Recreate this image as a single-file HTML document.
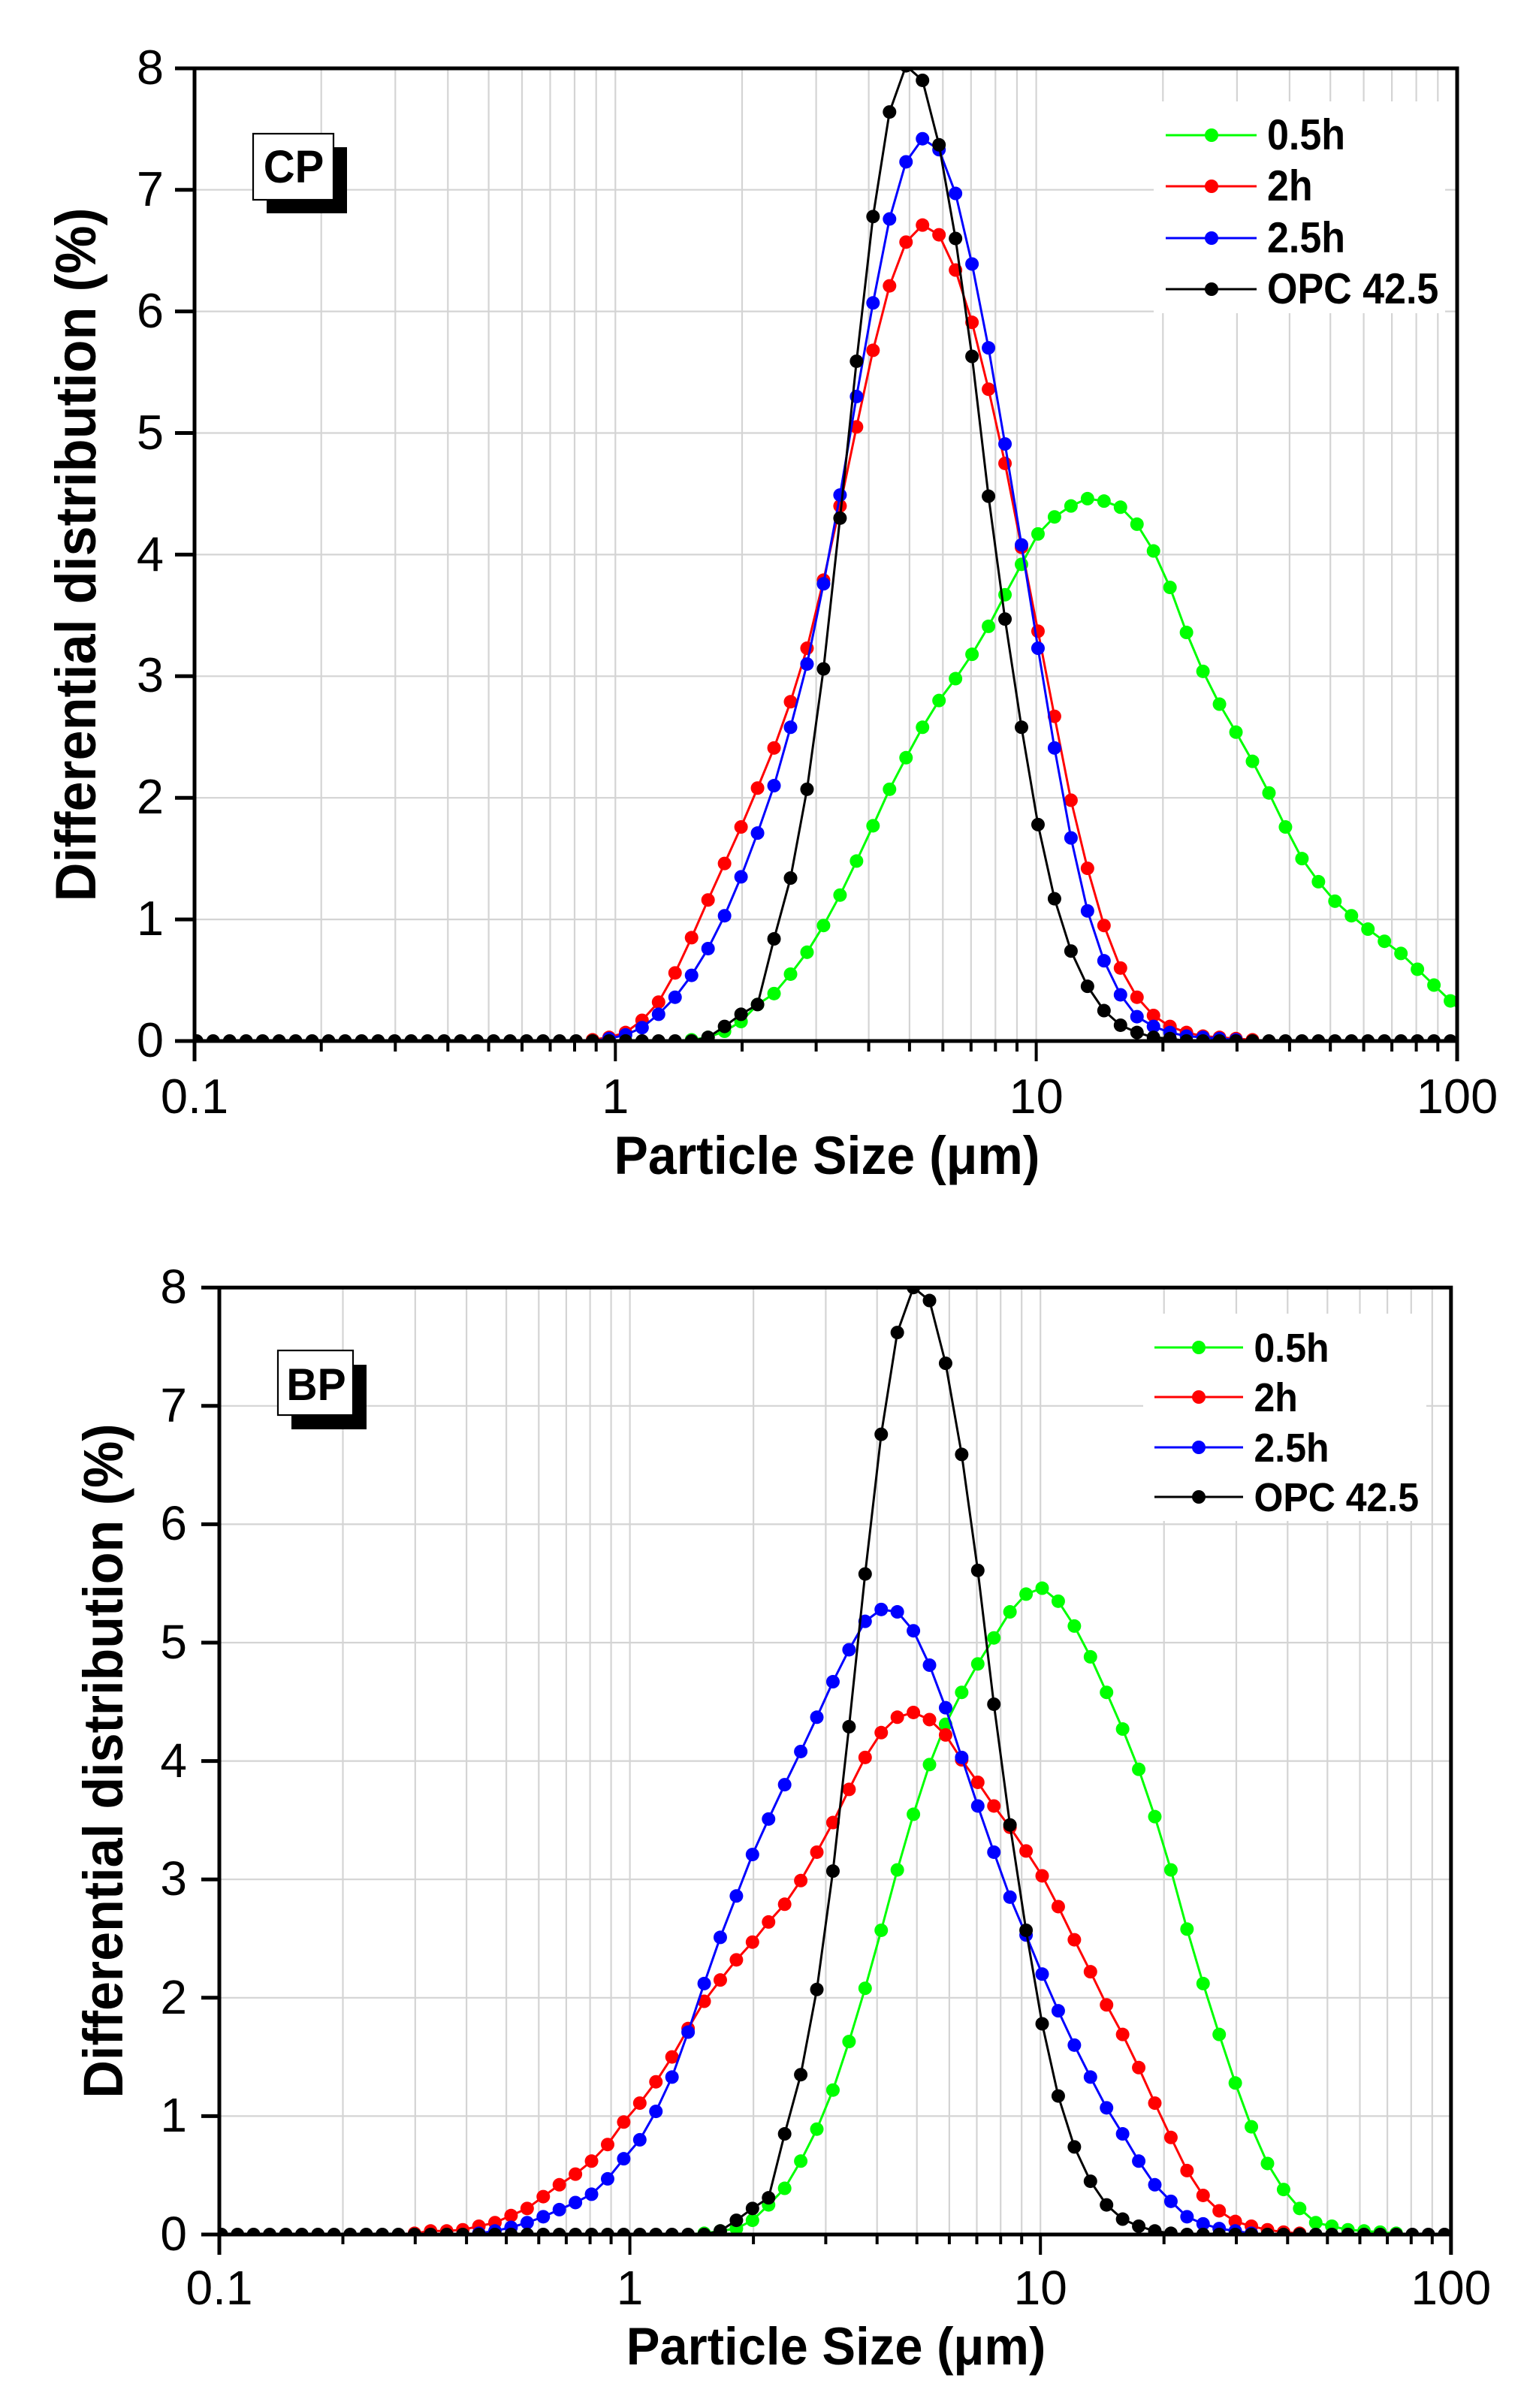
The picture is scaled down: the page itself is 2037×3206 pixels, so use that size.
<!DOCTYPE html>
<html><head><meta charset="utf-8"><style>html,body{margin:0;padding:0;background:#fff}svg{display:block}</style></head><body>
<svg xmlns="http://www.w3.org/2000/svg" width="2037" height="3206" viewBox="0 0 2037 3206" font-family="'Liberation Sans', Arial, sans-serif">
<defs>
<clipPath id="ct"><rect x="259" y="91" width="1681" height="1295"/></clipPath>
<clipPath id="cb"><rect x="292" y="1714.2" width="1639.8" height="1260.8"/></clipPath>
<ellipse id="t" cx="0" cy="0" rx="0.4098" ry="0.0556"/>
<ellipse id="b" cx="0" cy="0" rx="0.420" ry="0.0571"/>
</defs>
<rect width="2037" height="3206" fill="#fff"/>

<!-- ================= TOP CHART ================= -->
<path fill="none" stroke="#d4d4d4" stroke-width="2.2" d="M427.7 91V1386M526.3 91V1386M596.3 91V1386M650.6 91V1386M695 91V1386M732.5 91V1386M765 91V1386M793.7 91V1386M819.3 91V1386M988 91V1386M1086.6 91V1386M1156.6 91V1386M1210.9 91V1386M1255.3 91V1386M1292.8 91V1386M1325.3 91V1386M1354 91V1386M1379.6 91V1386M1548.3 91V1386M1646.9 91V1386M1716.9 91V1386M1771.2 91V1386M1815.6 91V1386M1853.1 91V1386M1885.6 91V1386M1914.3 91V1386M259 252.7H1940M259 414.6H1940M259 576.5H1940M259 738.4H1940M259 900.3H1940M259 1062.2H1940M259 1224.1H1940"/>

<g clip-path="url(#ct)"><g transform="translate(261.8 1386) scale(21.964 -161.9)">
<polyline fill="none" stroke="#00ff00" stroke-width="3" vector-effect="non-scaling-stroke" stroke-linejoin="round" points="0,0 29,0 30,0.01 31,0.03 32,0.08 33,0.16 34,0.30 35,0.39 36,0.55 37,0.73 38,0.95 39,1.20 40,1.48 41,1.77 42,2.07 43,2.33 44,2.58 45,2.80 46,2.98 47,3.18 48,3.41 49,3.67 50,3.92 51,4.17 52,4.31 53,4.40 54,4.46 55,4.44 56,4.39 57,4.25 58,4.03 59,3.73 60,3.36 61,3.04 62,2.77 63,2.54 64,2.30 65,2.04 66,1.76 67,1.50 68,1.31 69,1.15 70,1.03 71,0.92 72,0.82 73,0.72 74,0.59 75,0.46 76,0.33 77,0.2"/>
<g fill="#00ff00"><use href="#t" x="30" y=".01"/><use href="#t" x="31" y=".03"/><use href="#t" x="32" y=".08"/><use href="#t" x="33" y=".16"/><use href="#t" x="34" y=".30"/><use href="#t" x="35" y=".39"/><use href="#t" x="36" y=".55"/><use href="#t" x="37" y=".73"/><use href="#t" x="38" y=".95"/><use href="#t" x="39" y="1.2"/><use href="#t" x="40" y="1.48"/><use href="#t" x="41" y="1.77"/><use href="#t" x="42" y="2.07"/><use href="#t" x="43" y="2.33"/><use href="#t" x="44" y="2.58"/><use href="#t" x="45" y="2.8"/><use href="#t" x="46" y="2.98"/><use href="#t" x="47" y="3.18"/><use href="#t" x="48" y="3.41"/><use href="#t" x="49" y="3.67"/><use href="#t" x="50" y="3.92"/><use href="#t" x="51" y="4.17"/><use href="#t" x="52" y="4.31"/><use href="#t" x="53" y="4.4"/><use href="#t" x="54" y="4.46"/><use href="#t" x="55" y="4.44"/><use href="#t" x="56" y="4.39"/><use href="#t" x="57" y="4.25"/><use href="#t" x="58" y="4.03"/><use href="#t" x="59" y="3.73"/><use href="#t" x="60" y="3.36"/><use href="#t" x="61" y="3.04"/><use href="#t" x="62" y="2.77"/><use href="#t" x="63" y="2.54"/><use href="#t" x="64" y="2.3"/><use href="#t" x="65" y="2.04"/><use href="#t" x="66" y="1.76"/><use href="#t" x="67" y="1.5"/><use href="#t" x="68" y="1.31"/><use href="#t" x="69" y="1.15"/><use href="#t" x="70" y="1.03"/><use href="#t" x="71" y=".92"/><use href="#t" x="72" y=".82"/><use href="#t" x="73" y=".72"/><use href="#t" x="74" y=".59"/><use href="#t" x="75" y=".46"/><use href="#t" x="76" y=".33"/></g>

<polyline fill="none" stroke="#ff0000" stroke-width="3" vector-effect="non-scaling-stroke" stroke-linejoin="round" points="0,0 23,0 24,0.01 25,0.03 26,0.07 27,0.17 28,0.32 29,0.56 30,0.85 31,1.16 32,1.46 33,1.76 34,2.08 35,2.41 36,2.79 37,3.23 38,3.79 39,4.40 40,5.05 41,5.68 42,6.21 43,6.57 44,6.71 45,6.63 46,6.34 47,5.91 48,5.36 49,4.75 50,4.06 51,3.37 52,2.67 53,1.98 54,1.42 55,0.95 56,0.60 57,0.36 58,0.21 59,0.12 60,0.07 61,0.04 62,0.03 63,0.02 64,0.01 65,0 77,0"/>
<g fill="#ff0000"><use href="#t" x="24" y=".01"/><use href="#t" x="25" y=".03"/><use href="#t" x="26" y=".07"/><use href="#t" x="27" y=".17"/><use href="#t" x="28" y=".32"/><use href="#t" x="29" y=".56"/><use href="#t" x="30" y=".85"/><use href="#t" x="31" y="1.16"/><use href="#t" x="32" y="1.46"/><use href="#t" x="33" y="1.76"/><use href="#t" x="34" y="2.08"/><use href="#t" x="35" y="2.41"/><use href="#t" x="36" y="2.79"/><use href="#t" x="37" y="3.23"/><use href="#t" x="38" y="3.79"/><use href="#t" x="39" y="4.4"/><use href="#t" x="40" y="5.05"/><use href="#t" x="41" y="5.68"/><use href="#t" x="42" y="6.21"/><use href="#t" x="43" y="6.57"/><use href="#t" x="44" y="6.71"/><use href="#t" x="45" y="6.63"/><use href="#t" x="46" y="6.34"/><use href="#t" x="47" y="5.91"/><use href="#t" x="48" y="5.36"/><use href="#t" x="49" y="4.75"/><use href="#t" x="50" y="4.06"/><use href="#t" x="51" y="3.37"/><use href="#t" x="52" y="2.67"/><use href="#t" x="53" y="1.98"/><use href="#t" x="54" y="1.42"/><use href="#t" x="55" y=".95"/><use href="#t" x="56" y=".6"/><use href="#t" x="57" y=".36"/><use href="#t" x="58" y=".21"/><use href="#t" x="59" y=".12"/><use href="#t" x="60" y=".07"/><use href="#t" x="61" y=".04"/><use href="#t" x="62" y=".03"/><use href="#t" x="63" y=".02"/><use href="#t" x="64" y=".01"/></g>

<polyline fill="none" stroke="#0000ff" stroke-width="3" vector-effect="non-scaling-stroke" stroke-linejoin="round" points="0,0 24,0 25,0.02 26,0.05 27,0.11 28,0.22 29,0.36 30,0.54 31,0.76 32,1.03 33,1.35 34,1.71 35,2.10 36,2.58 37,3.10 38,3.76 39,4.49 40,5.30 41,6.07 42,6.76 43,7.23 44,7.42 45,7.33 46,6.97 47,6.39 48,5.70 49,4.91 50,4.08 51,3.23 52,2.41 53,1.67 54,1.07 55,0.66 56,0.38 57,0.20 58,0.12 59,0.07 60,0.04 61,0.03 62,0.02 63,0.01 64,0 77,0"/>
<g fill="#0000ff"><use href="#t" x="25" y=".02"/><use href="#t" x="26" y=".05"/><use href="#t" x="27" y=".11"/><use href="#t" x="28" y=".22"/><use href="#t" x="29" y=".36"/><use href="#t" x="30" y=".54"/><use href="#t" x="31" y=".76"/><use href="#t" x="32" y="1.03"/><use href="#t" x="33" y="1.35"/><use href="#t" x="34" y="1.71"/><use href="#t" x="35" y="2.1"/><use href="#t" x="36" y="2.58"/><use href="#t" x="37" y="3.1"/><use href="#t" x="38" y="3.76"/><use href="#t" x="39" y="4.49"/><use href="#t" x="40" y="5.3"/><use href="#t" x="41" y="6.07"/><use href="#t" x="42" y="6.76"/><use href="#t" x="43" y="7.23"/><use href="#t" x="44" y="7.42"/><use href="#t" x="45" y="7.33"/><use href="#t" x="46" y="6.97"/><use href="#t" x="47" y="6.39"/><use href="#t" x="48" y="5.7"/><use href="#t" x="49" y="4.91"/><use href="#t" x="50" y="4.08"/><use href="#t" x="51" y="3.23"/><use href="#t" x="52" y="2.41"/><use href="#t" x="53" y="1.67"/><use href="#t" x="54" y="1.07"/><use href="#t" x="55" y=".66"/><use href="#t" x="56" y=".38"/><use href="#t" x="57" y=".2"/><use href="#t" x="58" y=".12"/><use href="#t" x="59" y=".07"/><use href="#t" x="60" y=".04"/><use href="#t" x="61" y=".03"/><use href="#t" x="62" y=".02"/><use href="#t" x="63" y=".01"/></g>

<polyline fill="none" stroke="#000000" stroke-width="3" vector-effect="non-scaling-stroke" stroke-linejoin="round" points="0,0 30,0 31,0.03 32,0.12 33,0.22 34,0.30 35,0.84 36,1.34 37,2.07 38,3.06 39,4.30 40,5.59 41,6.78 42,7.64 43,8.02 44,7.90 45,7.37 46,6.60 47,5.63 48,4.48 49,3.47 50,2.58 51,1.78 52,1.17 53,0.74 54,0.45 55,0.25 56,0.13 57,0.07 58,0.03 59,0.02 60,0 77,0"/>
<g fill="#000000"><use href="#t" x="0" y="0"/><use href="#t" x="1" y="0"/><use href="#t" x="2" y="0"/><use href="#t" x="3" y="0"/><use href="#t" x="4" y="0"/><use href="#t" x="5" y="0"/><use href="#t" x="6" y="0"/><use href="#t" x="7" y="0"/><use href="#t" x="8" y="0"/><use href="#t" x="9" y="0"/><use href="#t" x="10" y="0"/><use href="#t" x="11" y="0"/><use href="#t" x="12" y="0"/><use href="#t" x="13" y="0"/><use href="#t" x="14" y="0"/><use href="#t" x="15" y="0"/><use href="#t" x="16" y="0"/><use href="#t" x="17" y="0"/><use href="#t" x="18" y="0"/><use href="#t" x="19" y="0"/><use href="#t" x="20" y="0"/><use href="#t" x="21" y="0"/><use href="#t" x="22" y="0"/><use href="#t" x="23" y="0"/><use href="#t" x="24" y="0"/><use href="#t" x="25" y="0"/><use href="#t" x="26" y="0"/><use href="#t" x="27" y="0"/><use href="#t" x="28" y="0"/><use href="#t" x="29" y="0"/><use href="#t" x="30" y="0"/><use href="#t" x="31" y=".03"/><use href="#t" x="32" y=".12"/><use href="#t" x="33" y=".22"/><use href="#t" x="34" y=".3"/><use href="#t" x="35" y=".84"/><use href="#t" x="36" y="1.34"/><use href="#t" x="37" y="2.07"/><use href="#t" x="38" y="3.06"/><use href="#t" x="39" y="4.3"/><use href="#t" x="40" y="5.59"/><use href="#t" x="41" y="6.78"/><use href="#t" x="42" y="7.64"/><use href="#t" x="43" y="8.02"/><use href="#t" x="44" y="7.9"/><use href="#t" x="45" y="7.37"/><use href="#t" x="46" y="6.6"/><use href="#t" x="47" y="5.63"/><use href="#t" x="48" y="4.48"/><use href="#t" x="49" y="3.47"/><use href="#t" x="50" y="2.58"/><use href="#t" x="51" y="1.78"/><use href="#t" x="52" y="1.17"/><use href="#t" x="53" y=".74"/><use href="#t" x="54" y=".45"/><use href="#t" x="55" y=".25"/><use href="#t" x="56" y=".13"/><use href="#t" x="57" y=".07"/><use href="#t" x="58" y=".03"/><use href="#t" x="59" y=".02"/><use href="#t" x="60" y="0"/><use href="#t" x="61" y="0"/><use href="#t" x="62" y="0"/><use href="#t" x="63" y="0"/><use href="#t" x="64" y="0"/><use href="#t" x="65" y="0"/><use href="#t" x="66" y="0"/><use href="#t" x="67" y="0"/><use href="#t" x="68" y="0"/><use href="#t" x="69" y="0"/><use href="#t" x="70" y="0"/><use href="#t" x="71" y="0"/><use href="#t" x="72" y="0"/><use href="#t" x="73" y="0"/><use href="#t" x="74" y="0"/><use href="#t" x="75" y="0"/><use href="#t" x="76" y="0"/></g>
</g></g>

<!-- top axes -->
<path fill="none" stroke="#000" stroke-width="4" d="M427.7 1386V1400M526.3 1386V1400M596.3 1386V1400M650.6 1386V1400M695 1386V1400M732.5 1386V1400M765 1386V1400M793.7 1386V1400M988 1386V1400M1086.6 1386V1400M1156.6 1386V1400M1210.9 1386V1400M1255.3 1386V1400M1292.8 1386V1400M1325.3 1386V1400M1354 1386V1400M1548.3 1386V1400M1646.9 1386V1400M1716.9 1386V1400M1771.2 1386V1400M1815.6 1386V1400M1853.1 1386V1400M1885.6 1386V1400M1914.3 1386V1400M819.3 1386V1413M1379.6 1386V1413"/>
<path fill="none" stroke="#000" stroke-width="5" d="M233 252.7H259M233 414.6H259M233 576.5H259M233 738.4H259M233 900.3H259M233 1062.2H259M233 1224.1H259M233 91H1942.5M233 1386H1942.5M259 88.5V1413M1940 88.5V1413"/>

<g font-size="65" text-anchor="end" fill="#000">
<text x="218" y="1407">0</text><text x="218" y="1245">1</text><text x="218" y="1083">2</text><text x="218" y="921">3</text><text x="218" y="760">4</text><text x="218" y="598">5</text><text x="218" y="436">6</text><text x="218" y="274">7</text><text x="218" y="112">8</text>
</g>
<g font-size="65" text-anchor="middle" fill="#000">
<text x="259" y="1482">0.1</text><text x="819.3" y="1482">1</text><text x="1379.6" y="1482">10</text><text x="1940" y="1482">100</text>
</g>
<text transform="translate(1101 1563) scale(1 1.05)" font-size="68" font-weight="bold" text-anchor="middle">Particle Size (μm)</text>
<text transform="translate(127 738.5) rotate(-90) scale(1 1.06)" font-size="72" font-weight="bold" text-anchor="middle">Differential distribution (%)</text>

<!-- CP label -->
<rect x="355" y="196" width="107" height="88" fill="#000"/>
<rect x="337" y="178" width="107" height="88" fill="#fff" stroke="#000" stroke-width="2.2"/>
<text transform="translate(391 243) scale(1 1.06)" font-size="58" font-weight="bold" text-anchor="middle">CP</text>

<!-- top legend -->
<rect x="1536" y="135" width="388" height="282" fill="#fff"/>
<g stroke-width="3">
<line x1="1552" y1="180" x2="1673" y2="180" stroke="#00ff00"/><circle cx="1613" cy="180" r="9" fill="#00ff00"/>
<line x1="1552" y1="248" x2="1673" y2="248" stroke="#ff0000"/><circle cx="1613" cy="248" r="9" fill="#ff0000"/>
<line x1="1552" y1="317" x2="1673" y2="317" stroke="#0000ff"/><circle cx="1613" cy="317" r="9" fill="#0000ff"/>
<line x1="1552" y1="385" x2="1673" y2="385" stroke="#000"/><circle cx="1613" cy="385" r="9" fill="#000"/>
</g>
<g font-size="52" font-weight="bold" fill="#000">
<text transform="translate(1687 199) scale(1 1.1)">0.5h</text>
<text transform="translate(1687 267) scale(1 1.1)">2h</text>
<text transform="translate(1687 336) scale(1 1.1)">2.5h</text>
<text transform="translate(1687 404) scale(1 1.1)">OPC 42.5</text>
</g>

<!-- ================= BOTTOM CHART ================= -->
<path fill="none" stroke="#d4d4d4" stroke-width="2.2" d="M456.5 1714.2V2975M552.8 1714.2V2975M621.1 1714.2V2975M674.1 1714.2V2975M717.3 1714.2V2975M753.9 1714.2V2975M785.6 1714.2V2975M813.6 1714.2V2975M838.6 1714.2V2975M1003.1 1714.2V2975M1099.4 1714.2V2975M1167.7 1714.2V2975M1220.7 1714.2V2975M1263.9 1714.2V2975M1300.5 1714.2V2975M1332.2 1714.2V2975M1360.2 1714.2V2975M1385.2 1714.2V2975M1549.7 1714.2V2975M1646 1714.2V2975M1714.3 1714.2V2975M1767.3 1714.2V2975M1810.5 1714.2V2975M1847.1 1714.2V2975M1878.8 1714.2V2975M1906.8 1714.2V2975M292 1871.8H1931.8M292 2029.4H1931.8M292 2187H1931.8M292 2344.6H1931.8M292 2502.2H1931.8M292 2659.8H1931.8M292 2817.4H1931.8"/>

<g clip-path="url(#cb)"><g transform="translate(294.73 2975) scale(21.427 -157.6)">
<polyline fill="none" stroke="#00ff00" stroke-width="3" vector-effect="non-scaling-stroke" stroke-linejoin="round" points="0,0 29,0 30,0.01 31,0.03 32,0.05 33,0.12 34,0.25 35,0.39 36,0.62 37,0.89 38,1.22 39,1.63 40,2.08 41,2.57 42,3.08 43,3.55 44,3.97 45,4.31 46,4.58 47,4.82 48,5.04 49,5.26 50,5.41 51,5.46 52,5.35 53,5.14 54,4.88 55,4.58 56,4.27 57,3.93 58,3.53 59,3.08 60,2.58 61,2.12 62,1.69 63,1.28 64,0.91 65,0.60 66,0.38 67,0.22 68,0.10 69,0.07 70,0.04 71,0.03 72,0.02 73,0.01 74,0 77,0"/>
<g fill="#00ff00"><use href="#b" x="30" y=".01"/><use href="#b" x="31" y=".03"/><use href="#b" x="32" y=".05"/><use href="#b" x="33" y=".12"/><use href="#b" x="34" y=".25"/><use href="#b" x="35" y=".39"/><use href="#b" x="36" y=".62"/><use href="#b" x="37" y=".89"/><use href="#b" x="38" y="1.22"/><use href="#b" x="39" y="1.63"/><use href="#b" x="40" y="2.08"/><use href="#b" x="41" y="2.57"/><use href="#b" x="42" y="3.08"/><use href="#b" x="43" y="3.55"/><use href="#b" x="44" y="3.97"/><use href="#b" x="45" y="4.31"/><use href="#b" x="46" y="4.58"/><use href="#b" x="47" y="4.82"/><use href="#b" x="48" y="5.04"/><use href="#b" x="49" y="5.26"/><use href="#b" x="50" y="5.41"/><use href="#b" x="51" y="5.46"/><use href="#b" x="52" y="5.35"/><use href="#b" x="53" y="5.14"/><use href="#b" x="54" y="4.88"/><use href="#b" x="55" y="4.58"/><use href="#b" x="56" y="4.27"/><use href="#b" x="57" y="3.93"/><use href="#b" x="58" y="3.53"/><use href="#b" x="59" y="3.08"/><use href="#b" x="60" y="2.58"/><use href="#b" x="61" y="2.12"/><use href="#b" x="62" y="1.69"/><use href="#b" x="63" y="1.28"/><use href="#b" x="64" y=".91"/><use href="#b" x="65" y=".6"/><use href="#b" x="66" y=".38"/><use href="#b" x="67" y=".22"/><use href="#b" x="68" y=".1"/><use href="#b" x="69" y=".07"/><use href="#b" x="70" y=".04"/><use href="#b" x="71" y=".03"/><use href="#b" x="72" y=".02"/><use href="#b" x="73" y=".01"/></g>

<polyline fill="none" stroke="#ff0000" stroke-width="3" vector-effect="non-scaling-stroke" stroke-linejoin="round" points="0,0 11,0 12,0.01 13,0.03 14,0.03 15,0.04 16,0.07 17,0.10 18,0.16 19,0.22 20,0.32 21,0.42 22,0.51 23,0.62 24,0.76 25,0.95 26,1.11 27,1.29 28,1.50 29,1.74 30,1.97 31,2.15 32,2.32 33,2.47 34,2.64 35,2.79 36,2.99 37,3.23 38,3.48 39,3.76 40,4.03 41,4.24 42,4.37 43,4.41 44,4.35 45,4.22 46,4.01 47,3.82 48,3.62 49,3.44 50,3.24 51,3.03 52,2.77 53,2.49 54,2.22 55,1.94 56,1.69 57,1.41 58,1.11 59,0.82 60,0.54 61,0.33 62,0.20 63,0.11 64,0.07 65,0.04 66,0.02 67,0.01 68,0 77,0"/>
<g fill="#ff0000"><use href="#b" x="12" y=".01"/><use href="#b" x="13" y=".03"/><use href="#b" x="14" y=".03"/><use href="#b" x="15" y=".04"/><use href="#b" x="16" y=".07"/><use href="#b" x="17" y=".1"/><use href="#b" x="18" y=".16"/><use href="#b" x="19" y=".22"/><use href="#b" x="20" y=".32"/><use href="#b" x="21" y=".42"/><use href="#b" x="22" y=".51"/><use href="#b" x="23" y=".62"/><use href="#b" x="24" y=".76"/><use href="#b" x="25" y=".95"/><use href="#b" x="26" y="1.11"/><use href="#b" x="27" y="1.29"/><use href="#b" x="28" y="1.5"/><use href="#b" x="29" y="1.74"/><use href="#b" x="30" y="1.97"/><use href="#b" x="31" y="2.15"/><use href="#b" x="32" y="2.32"/><use href="#b" x="33" y="2.47"/><use href="#b" x="34" y="2.64"/><use href="#b" x="35" y="2.79"/><use href="#b" x="36" y="2.99"/><use href="#b" x="37" y="3.23"/><use href="#b" x="38" y="3.48"/><use href="#b" x="39" y="3.76"/><use href="#b" x="40" y="4.03"/><use href="#b" x="41" y="4.24"/><use href="#b" x="42" y="4.37"/><use href="#b" x="43" y="4.41"/><use href="#b" x="44" y="4.35"/><use href="#b" x="45" y="4.22"/><use href="#b" x="46" y="4.01"/><use href="#b" x="47" y="3.82"/><use href="#b" x="48" y="3.62"/><use href="#b" x="49" y="3.44"/><use href="#b" x="50" y="3.24"/><use href="#b" x="51" y="3.03"/><use href="#b" x="52" y="2.77"/><use href="#b" x="53" y="2.49"/><use href="#b" x="54" y="2.22"/><use href="#b" x="55" y="1.94"/><use href="#b" x="56" y="1.69"/><use href="#b" x="57" y="1.41"/><use href="#b" x="58" y="1.11"/><use href="#b" x="59" y=".82"/><use href="#b" x="60" y=".54"/><use href="#b" x="61" y=".33"/><use href="#b" x="62" y=".2"/><use href="#b" x="63" y=".11"/><use href="#b" x="64" y=".07"/><use href="#b" x="65" y=".04"/><use href="#b" x="66" y=".02"/><use href="#b" x="67" y=".01"/></g>

<polyline fill="none" stroke="#0000ff" stroke-width="3" vector-effect="non-scaling-stroke" stroke-linejoin="round" points="0,0 15,0 16,0.01 17,0.03 18,0.06 19,0.10 20,0.15 21,0.21 22,0.27 23,0.34 24,0.47 25,0.64 26,0.80 27,1.04 28,1.33 29,1.71 30,2.12 31,2.51 32,2.86 33,3.21 34,3.51 35,3.80 36,4.08 37,4.37 38,4.67 39,4.94 40,5.18 41,5.28 42,5.26 43,5.10 44,4.81 45,4.45 46,4.03 47,3.62 48,3.23 49,2.85 50,2.53 51,2.20 52,1.89 53,1.60 54,1.33 55,1.07 56,0.85 57,0.62 58,0.42 59,0.28 60,0.15 61,0.09 62,0.05 63,0.03 64,0.01 65,0 77,0"/>
<g fill="#0000ff"><use href="#b" x="16" y=".01"/><use href="#b" x="17" y=".03"/><use href="#b" x="18" y=".06"/><use href="#b" x="19" y=".1"/><use href="#b" x="20" y=".15"/><use href="#b" x="21" y=".21"/><use href="#b" x="22" y=".27"/><use href="#b" x="23" y=".34"/><use href="#b" x="24" y=".47"/><use href="#b" x="25" y=".64"/><use href="#b" x="26" y=".8"/><use href="#b" x="27" y="1.04"/><use href="#b" x="28" y="1.33"/><use href="#b" x="29" y="1.71"/><use href="#b" x="30" y="2.12"/><use href="#b" x="31" y="2.51"/><use href="#b" x="32" y="2.86"/><use href="#b" x="33" y="3.21"/><use href="#b" x="34" y="3.51"/><use href="#b" x="35" y="3.8"/><use href="#b" x="36" y="4.08"/><use href="#b" x="37" y="4.37"/><use href="#b" x="38" y="4.67"/><use href="#b" x="39" y="4.94"/><use href="#b" x="40" y="5.18"/><use href="#b" x="41" y="5.28"/><use href="#b" x="42" y="5.26"/><use href="#b" x="43" y="5.1"/><use href="#b" x="44" y="4.81"/><use href="#b" x="45" y="4.45"/><use href="#b" x="46" y="4.03"/><use href="#b" x="47" y="3.62"/><use href="#b" x="48" y="3.23"/><use href="#b" x="49" y="2.85"/><use href="#b" x="50" y="2.53"/><use href="#b" x="51" y="2.2"/><use href="#b" x="52" y="1.89"/><use href="#b" x="53" y="1.6"/><use href="#b" x="54" y="1.33"/><use href="#b" x="55" y="1.07"/><use href="#b" x="56" y=".85"/><use href="#b" x="57" y=".62"/><use href="#b" x="58" y=".42"/><use href="#b" x="59" y=".28"/><use href="#b" x="60" y=".15"/><use href="#b" x="61" y=".09"/><use href="#b" x="62" y=".05"/><use href="#b" x="63" y=".03"/><use href="#b" x="64" y=".01"/></g>

<polyline fill="none" stroke="#000000" stroke-width="3" vector-effect="non-scaling-stroke" stroke-linejoin="round" points="0,0 30,0 31,0.03 32,0.12 33,0.22 34,0.31 35,0.85 36,1.35 37,2.07 38,3.07 39,4.29 40,5.58 41,6.76 42,7.62 43,8.00 44,7.89 45,7.36 46,6.59 47,5.61 48,4.48 49,3.46 50,2.57 51,1.78 52,1.17 53,0.74 54,0.45 55,0.25 56,0.13 57,0.07 58,0.03 59,0.01 60,0 77,0"/>
<g fill="#000000"><use href="#b" x="0" y="0"/><use href="#b" x="1" y="0"/><use href="#b" x="2" y="0"/><use href="#b" x="3" y="0"/><use href="#b" x="4" y="0"/><use href="#b" x="5" y="0"/><use href="#b" x="6" y="0"/><use href="#b" x="7" y="0"/><use href="#b" x="8" y="0"/><use href="#b" x="9" y="0"/><use href="#b" x="10" y="0"/><use href="#b" x="11" y="0"/><use href="#b" x="12" y="0"/><use href="#b" x="13" y="0"/><use href="#b" x="14" y="0"/><use href="#b" x="15" y="0"/><use href="#b" x="16" y="0"/><use href="#b" x="17" y="0"/><use href="#b" x="18" y="0"/><use href="#b" x="19" y="0"/><use href="#b" x="20" y="0"/><use href="#b" x="21" y="0"/><use href="#b" x="22" y="0"/><use href="#b" x="23" y="0"/><use href="#b" x="24" y="0"/><use href="#b" x="25" y="0"/><use href="#b" x="26" y="0"/><use href="#b" x="27" y="0"/><use href="#b" x="28" y="0"/><use href="#b" x="29" y="0"/><use href="#b" x="30" y="0"/><use href="#b" x="31" y=".03"/><use href="#b" x="32" y=".12"/><use href="#b" x="33" y=".22"/><use href="#b" x="34" y=".31"/><use href="#b" x="35" y=".85"/><use href="#b" x="36" y="1.35"/><use href="#b" x="37" y="2.07"/><use href="#b" x="38" y="3.07"/><use href="#b" x="39" y="4.29"/><use href="#b" x="40" y="5.58"/><use href="#b" x="41" y="6.76"/><use href="#b" x="42" y="7.62"/><use href="#b" x="43" y="8"/><use href="#b" x="44" y="7.89"/><use href="#b" x="45" y="7.36"/><use href="#b" x="46" y="6.59"/><use href="#b" x="47" y="5.61"/><use href="#b" x="48" y="4.48"/><use href="#b" x="49" y="3.46"/><use href="#b" x="50" y="2.57"/><use href="#b" x="51" y="1.78"/><use href="#b" x="52" y="1.17"/><use href="#b" x="53" y=".74"/><use href="#b" x="54" y=".45"/><use href="#b" x="55" y=".25"/><use href="#b" x="56" y=".13"/><use href="#b" x="57" y=".07"/><use href="#b" x="58" y=".03"/><use href="#b" x="59" y=".01"/><use href="#b" x="60" y="0"/><use href="#b" x="61" y="0"/><use href="#b" x="62" y="0"/><use href="#b" x="63" y="0"/><use href="#b" x="64" y="0"/><use href="#b" x="65" y="0"/><use href="#b" x="66" y="0"/><use href="#b" x="67" y="0"/><use href="#b" x="68" y="0"/><use href="#b" x="69" y="0"/><use href="#b" x="70" y="0"/><use href="#b" x="71" y="0"/><use href="#b" x="72" y="0"/><use href="#b" x="73" y="0"/><use href="#b" x="74" y="0"/><use href="#b" x="75" y="0"/><use href="#b" x="76" y="0"/></g>
</g></g>

<!-- bottom axes -->
<path fill="none" stroke="#000" stroke-width="4" d="M456.5 2975V2988M552.8 2975V2988M621.1 2975V2988M674.1 2975V2988M717.3 2975V2988M753.9 2975V2988M785.6 2975V2988M813.6 2975V2988M1003.1 2975V2988M1099.4 2975V2988M1167.7 2975V2988M1220.7 2975V2988M1263.9 2975V2988M1300.5 2975V2988M1332.2 2975V2988M1360.2 2975V2988M1549.7 2975V2988M1646 2975V2988M1714.3 2975V2988M1767.3 2975V2988M1810.5 2975V2988M1847.1 2975V2988M1878.8 2975V2988M1906.8 2975V2988M838.6 2975V3002M1385.2 2975V3002"/>
<path fill="none" stroke="#000" stroke-width="5" d="M268 1871.8H292M268 2029.4H292M268 2187H292M268 2344.6H292M268 2502.2H292M268 2659.8H292M268 2817.4H292M268 1714.2H1934.3M268 2975H1934.3M292 1711.7V3002M1931.8 1711.7V3002"/>

<g font-size="64" text-anchor="end" fill="#000">
<text x="249" y="2996">0</text><text x="249" y="2838">1</text><text x="249" y="2681">2</text><text x="249" y="2523">3</text><text x="249" y="2366">4</text><text x="249" y="2208">5</text><text x="249" y="2050">6</text><text x="249" y="1893">7</text><text x="249" y="1735">8</text>
</g>
<g font-size="64" text-anchor="middle" fill="#000">
<text x="292" y="3068">0.1</text><text x="838.6" y="3068">1</text><text x="1385.2" y="3068">10</text><text x="1931.8" y="3068">100</text>
</g>
<text transform="translate(1113 3148) scale(1 1.05)" font-size="67" font-weight="bold" text-anchor="middle">Particle Size (μm)</text>
<text transform="translate(163 2344.5) rotate(-90) scale(1 1.06)" font-size="70" font-weight="bold" text-anchor="middle">Differential distribution (%)</text>

<!-- BP label -->
<rect x="388" y="1817" width="100" height="86" fill="#000"/>
<rect x="370" y="1798" width="100" height="86" fill="#fff" stroke="#000" stroke-width="2.2"/>
<text transform="translate(421 1864) scale(1 1.06)" font-size="57" font-weight="bold" text-anchor="middle">BP</text>

<!-- bottom legend -->
<rect x="1522" y="1749" width="377" height="276" fill="#fff"/>
<g stroke-width="3">
<line x1="1537" y1="1794" x2="1655" y2="1794" stroke="#00ff00"/><circle cx="1596" cy="1794" r="9" fill="#00ff00"/>
<line x1="1537" y1="1860" x2="1655" y2="1860" stroke="#ff0000"/><circle cx="1596" cy="1860" r="9" fill="#ff0000"/>
<line x1="1537" y1="1927" x2="1655" y2="1927" stroke="#0000ff"/><circle cx="1596" cy="1927" r="9" fill="#0000ff"/>
<line x1="1537" y1="1993" x2="1655" y2="1993" stroke="#000"/><circle cx="1596" cy="1993" r="9" fill="#000"/>
</g>
<g font-size="50" font-weight="bold" fill="#000">
<text transform="translate(1669.5 1813) scale(1 1.07)">0.5h</text>
<text transform="translate(1669.5 1879) scale(1 1.07)">2h</text>
<text transform="translate(1669.5 1946) scale(1 1.07)">2.5h</text>
<text transform="translate(1669.5 2012) scale(1 1.07)">OPC 42.5</text>
</g>
</svg>
</body></html>
